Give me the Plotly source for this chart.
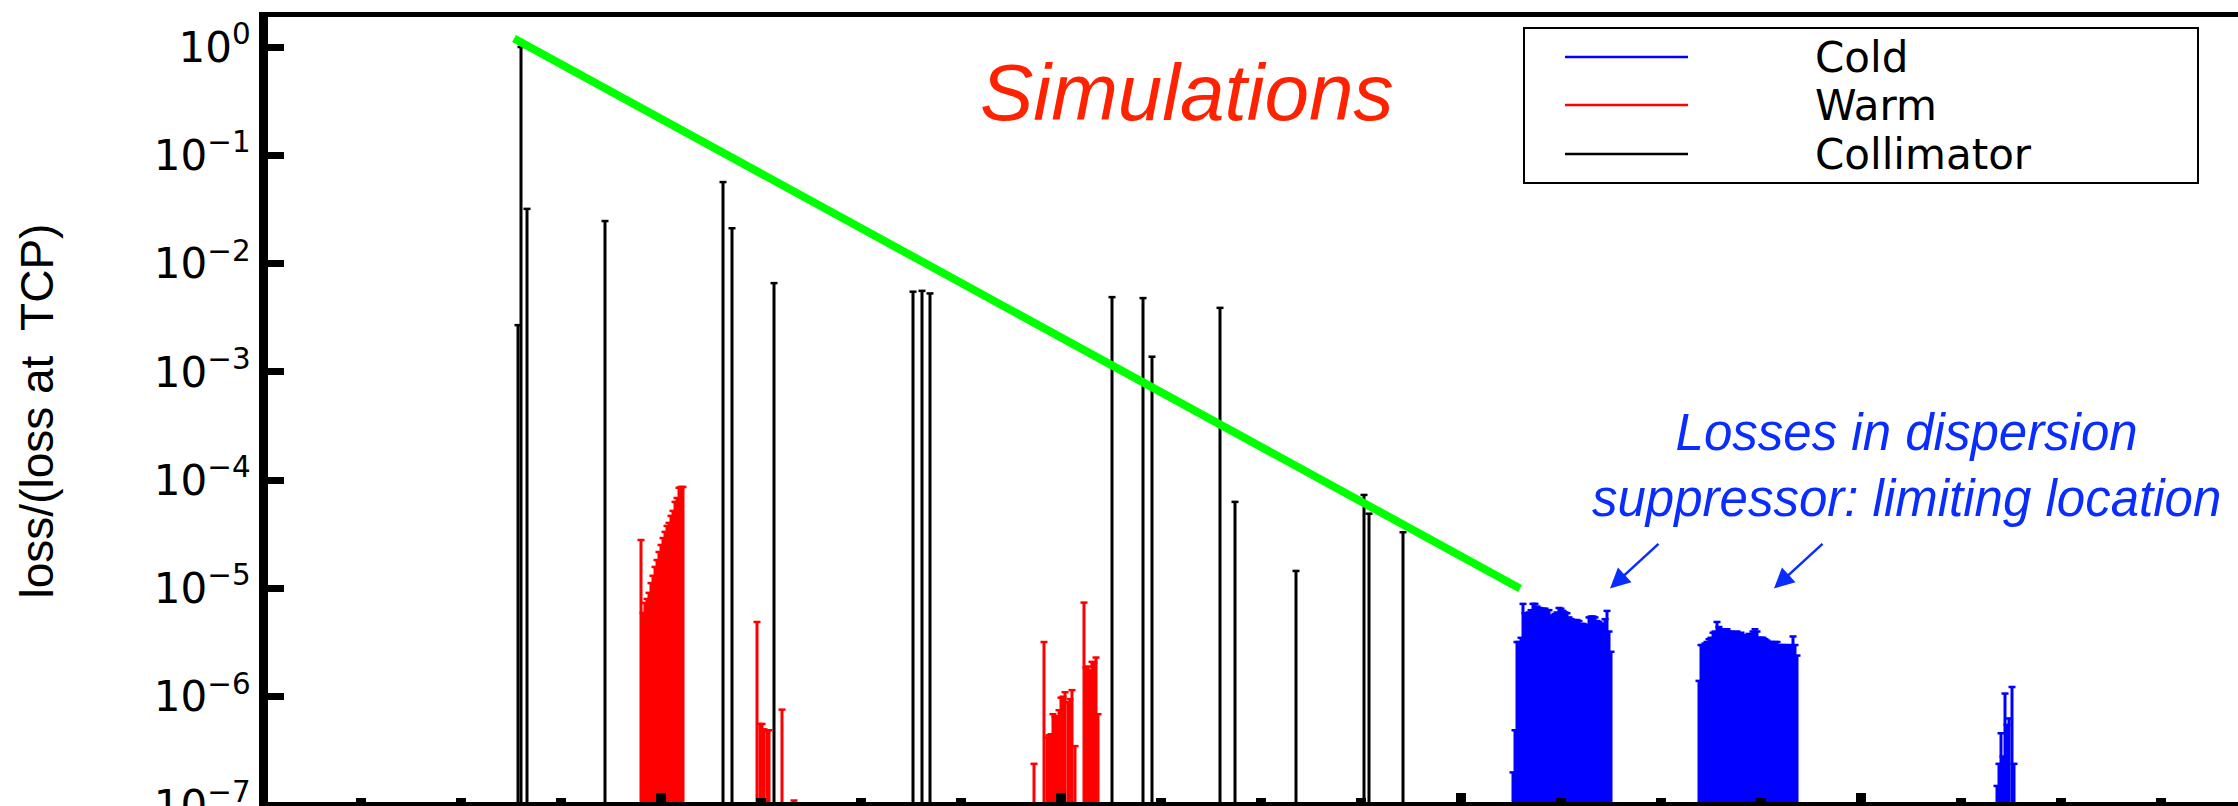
import math
import plotly.graph_objects as go

# ---------------------------------------------------------------------------
# Data: longitudinal position s (arbitrary units along the ring) and the loss
# normalised to the loss at the primary collimator (TCP).
# ---------------------------------------------------------------------------
coll_s = [157, 160, 166, 244, 362, 371, 413, 552, 561, 569,
          751, 782, 791, 859, 874, 935, 1003, 1008, 1042]
coll_loss = [2.7e-3, 1.0, 3.2e-2, 2.47e-2, 5.66e-2, 2.12e-2, 6.6e-3, 5.5e-3, 5.6e-3, 5.3e-3,
             4.9e-3, 4.8e-3, 1.38e-3, 3.9e-3, 6.3e-5, 1.45e-5, 7.3e-5, 4.9e-5, 3.3e-5]

warm_s = [280, 282, 284, 286, 288, 290, 292, 294, 296, 298, 300,
          302, 304, 306, 308, 310, 312, 314, 316, 318, 320, 322,
          396, 399, 401, 403, 406, 408, 421, 433,
          673, 683, 686, 688, 690, 692, 694, 696, 698, 700, 702, 704,
          707, 709, 711, 714, 723, 725, 727, 729, 731, 733, 735, 737]
warm_loss = [2.8e-5, 5.94e-6, 7.35e-6, 8.0e-6, 9.1e-6, 1.12e-5, 1.31e-5, 1.58e-5, 1.83e-5, 2.17e-5, 2.52e-5,
             2.92e-5, 3.33e-5, 3.78e-5, 4.03e-5, 4.68e-5, 5.2e-5, 6.3e-5, 6.84e-5, 8.5e-5, 8.65e-5, 8.65e-5,
             4.9e-6, 5.6e-7, 5.6e-7, 5.0e-7, 4.8e-7, 4.9e-7, 7.6e-7, 1.1e-7,
             2.4e-7, 3.2e-6, 4.2e-7, 4.4e-7, 4.5e-7, 6.9e-7, 6.5e-7, 6.6e-7, 7.5e-7, 9.8e-7, 1.0e-6, 1.1e-6,
             8.9e-7, 9.5e-7, 1.15e-6, 3.5e-7, 7.4e-6, 1.86e-6, 1.9e-6, 1.75e-6, 2.1e-6, 2.05e-6, 2.3e-6, 6.9e-7]

cold_s = [1152, 1154, 1156, 1158, 1160, 1162, 1164, 1166, 1168, 1170,
          1172, 1174, 1176, 1178, 1180, 1182, 1184, 1186, 1188, 1190,
          1192, 1194, 1196, 1198, 1200, 1202, 1204, 1206, 1208, 1210,
          1212, 1214, 1216, 1218, 1220, 1222, 1224, 1226, 1228, 1230,
          1232, 1234, 1236, 1238, 1240, 1242, 1244, 1246, 1248, 1250,
          1338, 1340, 1342, 1344, 1346, 1348, 1350, 1352, 1354, 1356,
          1358, 1360, 1362, 1364, 1366, 1368, 1370, 1372, 1374, 1376,
          1378, 1380, 1382, 1384, 1386, 1388, 1390, 1392, 1394, 1396,
          1398, 1400, 1402, 1404, 1406, 1408, 1410, 1412, 1414, 1416,
          1418, 1420, 1422, 1424, 1426, 1428, 1430, 1432, 1434, 1436,
          1636, 1638, 1640, 1642, 1644, 1646, 1648, 1651, 1653]
cold_loss = [2.0e-7, 4.9e-7, 3.2e-6, 3.2e-6, 3.5e-6, 7.2e-6, 5.9e-6, 5.9e-6, 6.0e-6, 6.3e-6,
             7.2e-6, 7.2e-6, 6.8e-6, 6.6e-6, 6.5e-6, 6.5e-6, 6.5e-6, 6.3e-6, 6.3e-6, 5.6e-6,
             5.6e-6, 5.8e-6, 6.0e-6, 6.6e-6, 6.5e-6, 6.2e-6, 6.0e-6, 5.9e-6, 5.4e-6, 5.2e-6,
             5.1e-6, 5.1e-6, 5.1e-6, 5.0e-6, 4.7e-6, 4.7e-6, 4.6e-6, 4.6e-6, 5.4e-6, 5.5e-6,
             5.5e-6, 5.4e-6, 5.0e-6, 4.9e-6, 4.7e-6, 4.7e-6, 5.2e-6, 6.2e-6, 4.0e-6, 2.6e-6,
             1.4e-6, 3.0e-6, 3.0e-6, 3.1e-6, 3.2e-6, 3.4e-6, 3.5e-6, 3.9e-6, 4.0e-6, 4.9e-6,
             4.4e-6, 4.2e-6, 4.2e-6, 4.1e-6, 4.2e-6, 4.0e-6, 4.0e-6, 3.9e-6, 3.9e-6, 4.0e-6,
             3.8e-6, 3.9e-6, 3.7e-6, 3.7e-6, 3.6e-6, 3.8e-6, 3.7e-6, 4.0e-6, 4.2e-6, 4.0e-6,
             3.5e-6, 3.5e-6, 3.5e-6, 3.4e-6, 3.3e-6, 3.2e-6, 3.2e-6, 3.1e-6, 3.2e-6, 3.2e-6,
             3.0e-6, 2.9e-6, 3.0e-6, 3.0e-6, 2.9e-6, 2.9e-6, 3.0e-6, 3.6e-6, 3.0e-6, 2.4e-6,
             1.5e-7, 2.4e-7, 4.6e-7, 2.8e-7, 1.07e-6, 5.5e-7, 6.3e-7, 1.23e-6, 2.4e-7]

# Envelope of the collimator losses (guide line)
envelope_s = [153, 1159]
envelope_loss = [1.2, 1.0e-5]

# Arrow targets for the dispersion-suppressor annotation
ds_arrow_s = [1249, 1413]
ds_arrow_loss = [1.0e-5, 1.0e-5]

y_tickvals = [1e-7, 1e-6, 1e-5, 1e-4, 1e-3, 1e-2, 1e-1, 1e0]
y_ticktext = ["10<sup>−7</sup>", "10<sup>−6</sup>", "10<sup>−5</sup>", "10<sup>−4</sup>",
              "10<sup>−3</sup>", "10<sup>−2</sup>", "10<sup>−1</sup>", "10<sup>0</sup>"]

legend_names = ["Cold", "Warm", "Collimator"]
legend_colors = ["#0000ff", "#ff0000", "#000000"]

# ---------------------------------------------------------------------------
W, H = 2238, 806
ML, MR, MT, MB = 268, 0, 17, 1
FLOOR = 1e-9  # stems start below the visible range and are clipped


def stems(s_vals, loss_vals):
    xs, ys = [], []
    for s, v in zip(s_vals, loss_vals):
        xs += [s, s, None]
        ys += [FLOOR, v, None]
    return xs, ys


def px_x(px):
    return (px - ML) / (W - ML - MR)


def px_y(py):
    return (H - MB - py) / (H - MT - MB)


fig = go.Figure()

for name, s_vals, loss_vals, color in [
    ("Collimator", coll_s, coll_loss, "#000000"),
    ("Warm", warm_s, warm_loss, "#ff0000"),
    ("Cold", cold_s, cold_loss, "#0000ff"),
]:
    xs, ys = stems(s_vals, loss_vals)
    fig.add_trace(go.Scatter(x=xs, y=ys, mode="lines", name=name,
                             line=dict(color=color, width=3), showlegend=False,
                             hoverinfo="skip"))
    fig.add_trace(go.Scatter(x=s_vals, y=loss_vals, mode="markers", name=name,
                             marker=dict(symbol="line-ew", size=5, color=color,
                                         line=dict(color=color, width=2.5)),
                             showlegend=False))

fig.add_trace(go.Scatter(x=envelope_s, y=envelope_loss, mode="lines",
                         line=dict(color="#00ff00", width=8), showlegend=False))

shapes = []
annotations = []

# Bottom frame line
shapes.append(dict(type="line", xref="paper", yref="paper", x0=0, x1=1, y0=0, y1=0,
                   line=dict(color="black", width=6)))

# Legend box
shapes.append(dict(type="rect", xref="paper", yref="paper",
                   x0=px_x(1524), x1=px_x(2198), y0=px_y(183), y1=px_y(28),
                   line=dict(color="black", width=2), fillcolor="white", layer="above"))
for i, (nm, col) in enumerate(zip(legend_names, legend_colors)):
    yy = [57, 105, 154][i]
    shapes.append(dict(type="line", xref="paper", yref="paper",
                       x0=px_x(1565), x1=px_x(1688), y0=px_y(yy), y1=px_y(yy),
                       line=dict(color=col, width=2.5)))
    annotations.append(dict(xref="paper", yref="paper", x=px_x(1813), y=px_y(yy),
                            xanchor="left", yanchor="middle", showarrow=False, text=nm,
                            font=dict(family="DejaVu Sans", size=42, color="black")))

annotations.append(dict(xref="paper", yref="paper", x=px_x(1187), y=px_y(93),
                        xanchor="center", yanchor="middle", showarrow=False,
                        text="<i>Simulations</i>",
                        font=dict(family="Liberation Sans, Arial", size=80, color="#ff2200")))

annotations.append(dict(xref="paper", yref="paper", x=px_x(1906), y=px_y(466),
                        xanchor="center", yanchor="middle", showarrow=False, align="center",
                        text="<i>Losses in dispersion<br>suppressor: limiting location</i>",
                        font=dict(family="Liberation Sans, Arial", size=51, color="#0a2dff")))

for s, v in zip(ds_arrow_s, ds_arrow_loss):
    annotations.append(dict(xref="x", yref="y", x=s, y=math.log10(v), ax=50, ay=-46,
                            showarrow=True, arrowhead=2, arrowsize=1.6, arrowwidth=2.5,
                            arrowcolor="#0a2dff", text=""))

fig.update_layout(
    width=W, height=H, autosize=False,
    margin=dict(l=ML, r=MR, t=MT, b=MB, pad=0, autoexpand=False),
    paper_bgcolor="white", plot_bgcolor="white",
    showlegend=False,
    shapes=shapes, annotations=annotations,
    xaxis=dict(range=[-93, 1877], showgrid=False, zeroline=False, automargin=False,
               showline=True, linewidth=5, linecolor="black", mirror=True,
               ticks="inside", tick0=300, dtick=400, ticklen=12, tickwidth=10,
               tickcolor="black", showticklabels=False,
               minor=dict(ticks="inside", tick0=0, dtick=100, ticklen=7,
                          tickwidth=10, tickcolor="black")),
    yaxis=dict(type="log", range=[-7, 0.277], showgrid=False, zeroline=False, automargin=False,
               showline=True, linewidth=9, linecolor="black", mirror=False,
               ticks="inside", ticklen=16, tickwidth=7, tickcolor="black",
               tickvals=y_tickvals, ticktext=y_ticktext, ticklabeloverflow="allow",
               tickfont=dict(family="DejaVu Sans", size=42, color="black"),
               title=dict(text="loss/(loss at  TCP)", standoff=89,
                          font=dict(family="Liberation Sans Narrow, Arial Narrow, Liberation Sans",
                                    size=46, color="black"))),
)

fig.write_html("out.html")
